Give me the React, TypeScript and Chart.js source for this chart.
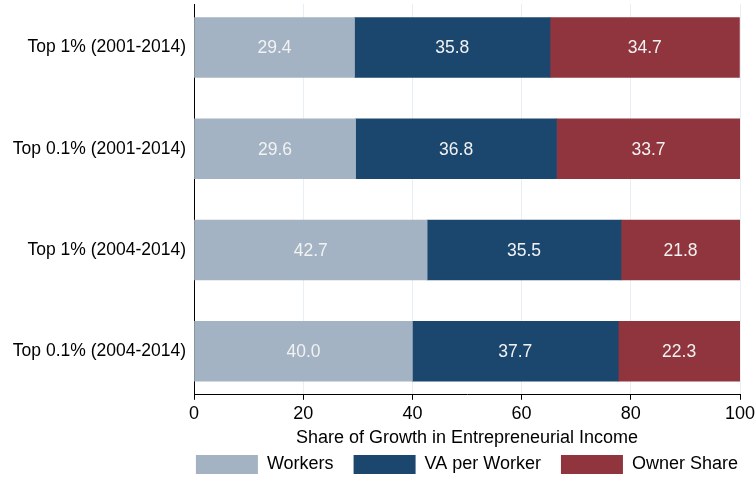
import React, { useEffect, useRef } from 'react';
import { Chart, registerables } from 'chart.js';

Chart.register(...registerables);

const categories = ['Top 1% (2001-2014)', 'Top 0.1% (2001-2014)', 'Top 1% (2004-2014)', 'Top 0.1% (2004-2014)'];
const workers = [29.4, 29.6, 42.7, 40.0];
const vaPerWorker = [35.8, 36.8, 35.5, 37.7];
const ownerShare = [34.7, 33.7, 21.8, 22.3];
const xTicks = [0, 20, 40, 60, 80, 100];

const FONT = '"Liberation Sans", Arial, sans-serif';

// writes the value in the middle of each bar segment
const barLabels = {
  id: 'barLabels',
  afterDatasetsDraw(chart: any) {
    const ctx = chart.ctx;
    ctx.save();
    ctx.font = `17.5px ${FONT}`;
    ctx.fillStyle = '#f2f2f2';
    ctx.textAlign = 'center';
    ctx.textBaseline = 'middle';
    chart.data.datasets.forEach((ds: any, di: number) => {
      const meta = chart.getDatasetMeta(di);
      meta.data.forEach((bar: any, i: number) => {
        const v = ds.data[i].x;
        ctx.fillText(v.toFixed(1), (bar.x + bar.base) / 2, bar.y + 1);
      });
    });
    ctx.restore();
  },
};

const App: React.FC = () => {
  const canvasRef = useRef<HTMLCanvasElement>(null);
  const chartRef = useRef<Chart | null>(null);

  useEffect(() => {
    if (!canvasRef.current) return;
    if (chartRef.current) chartRef.current.destroy();

    const toPoints = (arr: number[]) => arr.map((v, i) => ({ x: v, y: i }));

    chartRef.current = new Chart(canvasRef.current, {
      type: 'bar',
      data: {
        datasets: [
          { label: 'Workers', data: toPoints(workers), backgroundColor: '#a3b3c3', barThickness: 60 },
          { label: 'VA per Worker', data: toPoints(vaPerWorker), backgroundColor: '#1b466e', barThickness: 60 },
          { label: 'Owner Share', data: toPoints(ownerShare), backgroundColor: '#90353d', barThickness: 60 },
        ] as any,
      },
      options: {
        indexAxis: 'y',
        animation: false,
        responsive: true,
        maintainAspectRatio: false,
        layout: { padding: { top: 4, right: -3, bottom: -6, left: 0 } },
        plugins: {
          tooltip: { enabled: false },
          legend: {
            position: 'bottom',
            align: 'end',
            labels: {
              boxWidth: 62,
              boxHeight: 19,
              padding: 20,
              color: '#000',
              font: { family: FONT, size: 18 },
            },
          },
        },
        scales: {
          x: {
            type: 'linear',
            min: 0,
            max: 100,
            stacked: true,
            afterBuildTicks: (s: any) => { s.ticks = xTicks.map(v => ({ value: v })); },
            afterFit: (s: any) => { s.paddingRight = 15; },
            ticks: { color: '#000', font: { family: FONT, size: 18 }, padding: 3.5 },
            grid: { color: '#e8eff4', tickColor: '#000', tickLength: 5 },
            border: { color: '#000', width: 1 },
            title: {
              display: true,
              text: 'Share of Growth in Entrepreneurial Income',
              color: '#000',
              font: { family: FONT, size: 18 },
              padding: { top: -1, bottom: -14 },
            },
          },
          y: {
            type: 'linear',
            offset: false,
            reverse: true,
            min: -0.43,
            max: 3.43,
            stacked: true,
            afterBuildTicks: (s: any) => { s.ticks = categories.map((_, i) => ({ value: i })); },
            afterFit: (s: any) => {
              s.width = 194;
              s.paddingTop = 0;
              s.paddingBottom = 0;
            },
            ticks: {
              color: '#000',
              font: { family: FONT, size: 17.5 },
              padding: 0,
              callback: (v: any) => categories[v],
            },
            grid: { display: false },
            border: { color: '#000', width: 1 },
          },
        },
      },
      plugins: [barLabels],
    });

    return () => {
      if (chartRef.current) {
        chartRef.current.destroy();
        chartRef.current = null;
      }
    };
  }, []);

  return (
    <div style={{ position: 'fixed', left: 0, top: 0, width: 755, height: 478, background: '#fff' }}>
      <canvas ref={canvasRef}></canvas>
    </div>
  );
};

export default App;
